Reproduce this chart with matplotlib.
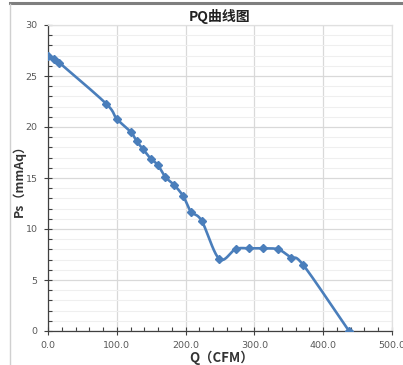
import numpy as np
import matplotlib
matplotlib.use("Agg")
import matplotlib.pyplot as plt
from matplotlib.ticker import MultipleLocator, FormatStrFormatter
from matplotlib.lines import Line2D

q_cfm = [0, 9.2, 16.5, 84.3, 100, 120.6, 128.9, 138.5, 149.2, 159.4, 170.5,
         183.6, 196.7, 207.8, 223.4, 249, 272.8, 292.6, 312.5, 334.7, 353.2,
         371, 437.5]
ps_mmaq = [27.0, 26.7, 26.3, 22.3, 20.8, 19.5, 18.6, 17.8, 16.9, 16.3, 15.1,
           14.3, 13.2, 11.7, 10.8, 7.06, 8.04, 8.1, 8.1, 8.0, 7.2, 6.47, 0.0]

title = "PQ曲线图"
xlabel = "Q（CFM）"
ylabel = "Ps（mmAq）"

plt.rcParams['font.family'] = ['Noto Sans CJK SC', 'DejaVu Sans']


def catmull_rom(x, y, n=20):
    # Smooth curve through the data points (like a spreadsheet "smoothed line")
    x = np.asarray(x, float)
    y = np.asarray(y, float)
    px = np.concatenate([[2 * x[0] - x[1]], x, [2 * x[-1] - x[-2]]])
    py = np.concatenate([[2 * y[0] - y[1]], y, [2 * y[-1] - y[-2]]])
    ox, oy = [], []
    t = np.linspace(0, 1, n, endpoint=False)
    for i in range(1, len(px) - 2):
        for arr, out in ((px, ox), (py, oy)):
            p0, p1, p2, p3 = arr[i - 1], arr[i], arr[i + 1], arr[i + 2]
            out.extend(0.5 * ((2 * p1) + (-p0 + p2) * t
                              + (2 * p0 - 5 * p1 + 4 * p2 - p3) * t ** 2
                              + (-p0 + 3 * p1 - 3 * p2 + p3) * t ** 3))
    ox.append(x[-1])
    oy.append(y[-1])
    return np.array(ox), np.array(oy)


W, H = 403, 365
fig = plt.figure(figsize=(W / 100, H / 100), dpi=100)
fig.patch.set_facecolor('white')

# screenshot frame lines
fig.add_artist(Line2D([10 / W, 1], [1 - 2.5 / H, 1 - 2.5 / H], color='#7f7f7f',
                      lw=2.2, transform=fig.transFigure))
fig.add_artist(Line2D([9.5 / W, 9.5 / W], [0, 1 - 3.5 / H], color='#d0d0d0',
                      lw=1.0, transform=fig.transFigure))

ax = fig.add_axes([48 / W, (H - 331) / H, (392 - 48) / W, (331 - 25) / H])

blue = '#4A7EBB'
sx, sy = catmull_rom(q_cfm, ps_mmaq)
ax.plot(sx, sy, color=blue, lw=1.9, zorder=3, solid_capstyle='round')
ax.plot(q_cfm, ps_mmaq, linestyle='none', marker='D', markersize=3.8,
        color=blue, zorder=4)

ax.set_xlim(0, 500)
ax.set_ylim(0, 30)
ax.xaxis.set_major_locator(MultipleLocator(100))
ax.xaxis.set_minor_locator(MultipleLocator(20))
ax.yaxis.set_major_locator(MultipleLocator(5))
ax.yaxis.set_minor_locator(MultipleLocator(1))
ax.xaxis.set_major_formatter(FormatStrFormatter('%.1f'))

ax.grid(True, which='major', color='#d9d9d9', lw=0.9, zorder=0)
ax.grid(True, which='minor', axis='y', color='#efefef', lw=0.8, zorder=0)
ax.set_axisbelow(True)

for s in ('top', 'right'):
    ax.spines[s].set_color('#e0e0e0')
    ax.spines[s].set_linewidth(0.9)
for s in ('left', 'bottom'):
    ax.spines[s].set_color('#404040')
    ax.spines[s].set_linewidth(0.9)

ax.tick_params(which='major', direction='inout', length=6, width=0.8,
               color='#404040', labelsize=6.8, labelcolor='#595959')
ax.tick_params(which='minor', direction='in', length=3, width=0.8,
               color='#404040')
ax.tick_params(axis='y', which='major', pad=4.5)
ax.tick_params(axis='x', which='major', pad=4.0)

for lab in ax.get_xticklabels() + ax.get_yticklabels():
    lab.set_family(['DejaVu Sans'])

fig.text(220 / W, 1 - 17 / H, title, ha='center', va='center', fontsize=10,
         fontweight='bold', color='#222222')
fig.text(222 / W, 1 - 357.5 / H, xlabel, ha='center', va='center', fontsize=9.5,
         fontweight='bold', color='#333333')
fig.text(19.5 / W, 1 - 178 / H, ylabel, ha='center', va='center', fontsize=8.8,
         fontweight='bold', color='#333333', rotation=90)

fig.savefig('out.png', dpi=100, facecolor='white')
